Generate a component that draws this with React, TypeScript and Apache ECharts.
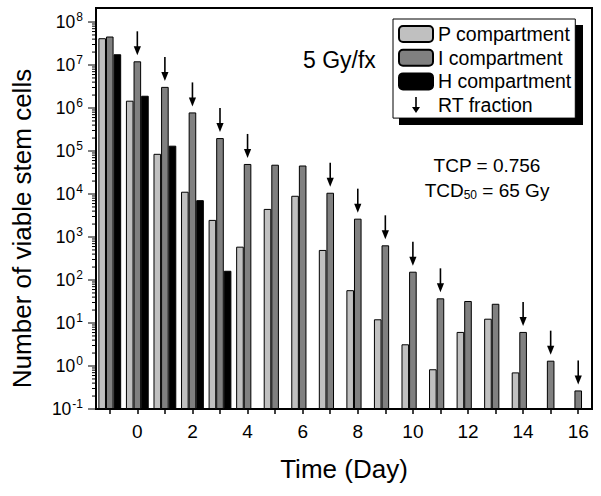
import React, { useEffect, useRef } from 'react';
import * as echarts from 'echarts';

const FONT = '"Liberation Sans", Arial, Helvetica, sans-serif';

const days = ['-1', '0', '1', '2', '3', '4', '5', '6', '7', '8', '9', '10', '11', '12', '13', '14', '15', '16'];
const pValues = [4.2e7, 1.48e6, 8.6e4, 1.13e4, 2.5e3, 596, 4.5e3, 9.1e3, 500, 58, 12.2, 3.2, 0.84, 6.2, 12.6, 0.71, null, null];
const iValues = [4.6e7, 1.22e7, 3.1e6, 7.9e5, 2.0e5, 5.0e4, 4.8e4, 4.6e4, 1.07e4, 2.67e3, 641, 156, 37.5, 32.5, 28, 6.2, 1.33, 0.27];
const hValues = [1.78e7, 1.93e6, 1.33e5, 7.2e3, 164, null, null, null, null, null, null, null, null, null, null, null, null, null];
const rtDays = ['0', '1', '2', '3', '4', '7', '8', '9', '10', '11', '14', '15', '16'];
const yDecades = [-1, 0, 1, 2, 3, 4, 5, 6, 7, 8];

const majorTicks = yDecades.map((e) => Math.pow(10, e));
const minorTicks: number[] = [];
yDecades.slice(0, -1).forEach((e) => {
  for (let m = 2; m <= 9; m++) minorTicks.push(m * Math.pow(10, e));
});

const barStyle = (color: string) => ({ color, borderColor: '#000', borderWidth: 1 });

export default function App() {
  const ref = useRef<HTMLDivElement>(null);
  useEffect(() => {
    document.body.style.margin = '0';
    if (!ref.current) return;
    const chart = echarts.init(ref.current, null, { renderer: 'svg' });
    const option: any = {
      animation: false,
      textStyle: { fontFamily: FONT },
      grid: { left: 96, right: 9, top: 8, bottom: 87, show: true, borderColor: '#000', borderWidth: 2, containLabel: false },
      xAxis: {
        type: 'category',
        data: days,
        boundaryGap: true,
        name: 'Time (Day)',
        nameLocation: 'middle',
        nameGap: 47,
        nameTextStyle: { fontSize: 26, color: '#000', fontFamily: FONT },
        axisLine: { lineStyle: { color: '#000', width: 2 } },
        axisTick: { show: true, alignWithLabel: true, interval: 0, length: 5, lineStyle: { color: '#000', width: 1.5 } },
        axisLabel: {
          interval: (index: number, value: string) => Number(value) % 2 === 0,
          fontSize: 19,
          color: '#000',
          margin: 13,
          fontFamily: FONT,
        },
        splitLine: { show: false },
      },
      yAxis: {
        type: 'log',
        logBase: 10,
        min: 0.1,
        max: Math.pow(10, 8.326),
        startValue: 0.1,
        splitNumber: 10,
        name: 'Number of viable stem cells',
        nameLocation: 'middle',
        nameGap: 61,
        nameTextStyle: { fontSize: 26, color: '#000', fontFamily: FONT, padding: [0, 40, 0, 0] },
        axisLine: { show: true, lineStyle: { color: '#000', width: 2 } },
        axisTick: { show: false },
        splitLine: { show: false },
        axisLabel: {
          showMaxLabel: false,
          margin: 13,
          align: 'right',
          formatter: (v: number) => `{b|10}{e|${Math.round(Math.log10(v))}}`,
          rich: {
            b: { fontSize: 17.5, lineHeight: 22, color: '#000', fontFamily: FONT, align: 'right' },
            e: { fontSize: 12, lineHeight: 12, verticalAlign: 'top', color: '#000', fontFamily: FONT, align: 'right', padding: [0, 0, 0, 1] },
          },
        },
      },
      legend: {
        data: [
          { name: 'P compartment' },
          { name: 'I compartment' },
          { name: 'H compartment' },
          {
            name: 'RT fraction',
            icon: 'path://M3.2,0 L4.8,0 L4.8,10 L8,10 L4,16 L0,10 L3.2,10 Z',
            itemStyle: { color: '#000', borderWidth: 0 },
          },
        ],
        orient: 'vertical',
        left: 393,
        top: 19,
        itemWidth: 34,
        itemHeight: 16,
        itemGap: 3.7,
        padding: [5, 4, 3, 5],
        backgroundColor: '#fff',
        borderColor: '#000',
        borderWidth: 1,
        selectedMode: false,
        textStyle: { fontSize: 19.5, lineHeight: 16, color: '#000', fontFamily: FONT },
      },
      graphic: [
        { type: 'rect', z: 1, shape: { x: 399, y: 25, width: 184, height: 100 }, style: { fill: '#000' } },
        { type: 'text', x: 303, y: 60, style: { text: '5 Gy/fx', fontSize: 23, fontFamily: FONT, fill: '#000', align: 'left', verticalAlign: 'middle' } },
        { type: 'text', x: 487, y: 165, style: { text: 'TCP = 0.756', fontSize: 19, fontFamily: FONT, fill: '#000', align: 'center', verticalAlign: 'middle' } },
        {
          type: 'text',
          x: 487,
          y: 190,
          style: {
            text: '{a|TCD}{s|50}{a| = 65 Gy}',
            align: 'center',
            verticalAlign: 'middle',
            rich: {
              a: { fontSize: 19, lineHeight: 22, fontFamily: FONT, fill: '#000', color: '#000' },
              s: { fontSize: 12, lineHeight: 12, verticalAlign: 'bottom', fontFamily: FONT, fill: '#000', color: '#000' },
            },
          },
        },
      ],
      series: [
        { type: 'bar', name: 'P compartment', data: pValues, barWidth: 7.6, barGap: '0%', itemStyle: barStyle('#c0c0c0') },
        { type: 'bar', name: 'I compartment', data: iValues, barWidth: 7.6, barGap: '0%', itemStyle: barStyle('#808080') },
        { type: 'bar', name: 'H compartment', data: hValues, barWidth: 7.6, barGap: '0%', itemStyle: barStyle('#000000') },
        {
          type: 'custom',
          name: 'RT fraction',
          itemStyle: { color: '#000' },
          data: rtDays.map((d) => {
            const idx = days.indexOf(d);
            return [idx, iValues[idx]];
          }),
          renderItem: (params: any, api: any) => {
            const p = api.coord([api.value(0), api.value(1)]);
            const tip = p[1] - 6;
            const top = tip - 24;
            return {
              type: 'group',
              children: [
                { type: 'line', shape: { x1: p[0], y1: top, x2: p[0], y2: tip - 8 }, style: { stroke: '#000', lineWidth: 1.6 } },
                { type: 'polygon', shape: { points: [[p[0] - 3.6, tip - 9], [p[0] + 3.6, tip - 9], [p[0], tip]] }, style: { fill: '#000' } },
              ],
            };
          },
        },
        {
          type: 'custom',
          name: 'yticks',
          silent: true,
          clip: false,
          data: [...majorTicks.map((v) => [0, v, 8]), ...minorTicks.map((v) => [0, v, 4])],
          renderItem: (params: any, api: any) => {
            const p = api.coord([0, api.value(1)]);
            const x0 = params.coordSys.x;
            const len = api.value(2);
            return {
              type: 'line',
              shape: { x1: x0 - len, y1: p[1], x2: x0, y2: p[1] },
              style: { stroke: '#000', lineWidth: 1 },
            };
          },
        },
      ],
    };
    chart.setOption(option);
    return () => chart.dispose();
  }, []);
  return <div ref={ref} style={{ width: 601, height: 496 }} />;
}
